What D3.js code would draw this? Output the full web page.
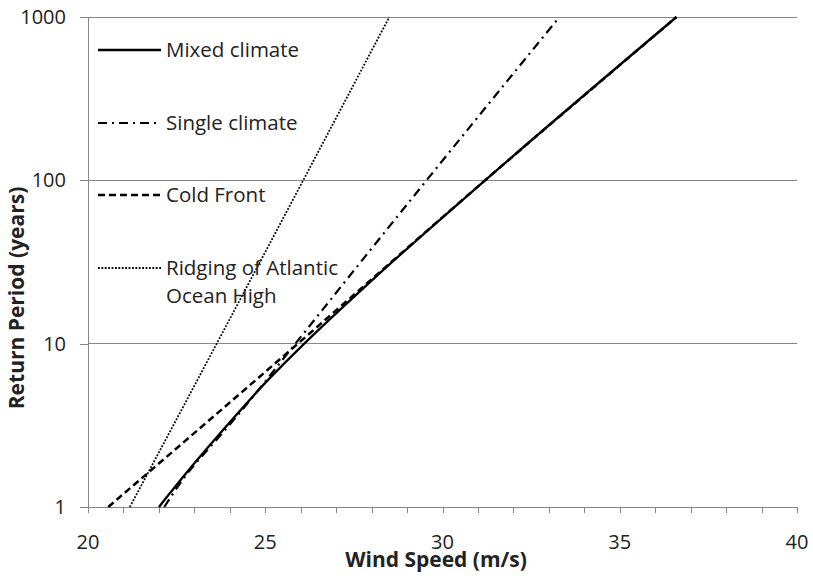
<!DOCTYPE html>
<html>
<head>
<meta charset="utf-8">
<script src="https://cdn.jsdelivr.net/npm/d3@7"></script>
<style>
  html, body { margin: 0; padding: 0; background: #fff; }
  svg { display: block; }
  text { font-family: "Open Sans", "DejaVu Sans", sans-serif; fill: #222; }
</style>
</head>
<body>
<svg id="chart" width="813" height="583"></svg>
<script>
// ---- Data ----
const xTickLabels = [20, 25, 30, 35, 40];
const yTickLabels = [1, 10, 100, 1000];

const mixedSpeed  = [22.0, 23.0, 24.05, 25.08, 26.1, 28.23, 31.2, 36.6];
const mixedPeriod = [1, 1.85, 3.4, 6.0, 10, 27, 100, 1000];

const singleSpeed  = [22.15, 22.73, 23.62, 24.18, 25.85, 27.47, 29.55, 33.3];
const singlePeriod = [1, 1.53, 2.57, 3.56, 10, 27.5, 100, 1000];

const coldSpeed  = [20.57, 25.92, 31.2, 36.6];
const coldPeriod = [1, 10, 100, 1000];

const ridgeSpeed  = [21.18, 23.63, 26.07, 28.5];
const ridgePeriod = [1, 10, 100, 1000];

const seriesNames = ["Mixed climate", "Single climate", "Cold Front", "Ridging of Atlantic|Ocean High"];

// ---- Layout ----
const svg = d3.select("#chart");
const W = 813, H = 583;
const margin = {left: 88, right: 16, top: 17, bottom: 76};
const x = d3.scaleLinear().domain([20, 40]).range([margin.left, W - margin.right]);
const y = d3.scaleLog().domain([1, 1000]).range([H - margin.bottom, margin.top]);
const gridColor = "#868686";

// gridlines
svg.append("g").selectAll("line").data(yTickLabels.filter(d => d > 1)).join("line")
  .attr("x1", x(20)).attr("x2", x(40))
  .attr("y1", d => y(d)).attr("y2", d => y(d))
  .attr("stroke", gridColor).attr("stroke-width", 1).attr("shape-rendering", "crispEdges");

// x axis (ticks every 1 m/s, labels every 5)
const xAxis = d3.axisBottom(x).tickValues(d3.range(20, 41, 1)).tickSize(6).tickSizeOuter(0).tickFormat("");
const gx = svg.append("g").attr("transform", `translate(0,${y(1)})`).call(xAxis);
gx.select(".domain").attr("stroke", gridColor).attr("shape-rendering", "crispEdges");
gx.selectAll(".tick line").attr("stroke", gridColor).attr("shape-rendering", "crispEdges");
svg.append("g").selectAll("text").data(xTickLabels).join("text")
  .attr("x", d => x(d)).attr("y", 549).attr("text-anchor", "middle")
  .style("font-size", "20px").text(d => d);

// y axis
const yAxis = d3.axisLeft(y).tickValues(yTickLabels).tickSize(8).tickSizeOuter(0).tickFormat("");
const gy = svg.append("g").attr("transform", `translate(${x(20)},0)`).call(yAxis);
gy.select(".domain").attr("stroke", gridColor).attr("shape-rendering", "crispEdges");
gy.selectAll(".tick line").attr("stroke", gridColor).attr("shape-rendering", "crispEdges");
svg.append("g").selectAll("text").data(yTickLabels).join("text")
  .attr("x", 66).attr("y", d => y(d)).attr("dy", "0.35em").attr("text-anchor", "end")
  .style("font-size", "20px").text(d => d);

// axis titles
svg.append("text").attr("x", 436).attr("y", 567).attr("text-anchor", "middle")
  .style("font-size", "21px").style("font-weight", "bold").text("Wind Speed (m/s)");
svg.append("text").attr("transform", "translate(24,298) rotate(-90)").attr("text-anchor", "middle")
  .style("font-size", "21px").style("font-weight", "bold").text("Return Period (years)");

// ---- Lines ----
const line = d3.line().x(d => x(d[0])).y(d => y(d[1])).curve(d3.curveMonotoneX);
const zip = (a, b) => a.map((v, i) => [v, b[i]]);

const styles = [
  {w: 2.3, dash: null},
  {w: 2.2, dash: "9,5,2,5"},
  {w: 2.5, dash: "7,4"},
  {w: 1.8, dash: "1.8,1.6"}
];
const series = [
  zip(mixedSpeed, mixedPeriod),
  zip(singleSpeed, singlePeriod),
  zip(coldSpeed, coldPeriod),
  zip(ridgeSpeed, ridgePeriod)
];

const drawOrder = [3, 2, 1, 0];
const plot = svg.append("g");
drawOrder.forEach(i => {
  plot.append("path").datum(series[i]).attr("d", line)
    .attr("fill", "none").attr("stroke", "#000")
    .attr("stroke-width", styles[i].w)
    .attr("stroke-dasharray", styles[i].dash);
});

// ---- Legend ----
const legendY = [50, 123, 195, 268];
const lg = svg.append("g");
seriesNames.forEach((name, i) => {
  lg.append("line").attr("x1", 98).attr("x2", 161).attr("y1", legendY[i]).attr("y2", legendY[i])
    .attr("stroke", "#000").attr("stroke-width", styles[i].w).attr("stroke-dasharray", styles[i].dash);
  const parts = name.split("|");
  parts.forEach((p, j) => {
    lg.append("text").attr("x", 166).attr("y", legendY[i] + j * 28).attr("dy", "0.35em")
      .style("font-size", "20.5px").text(p);
  });
});
</script>
</body>
</html>
